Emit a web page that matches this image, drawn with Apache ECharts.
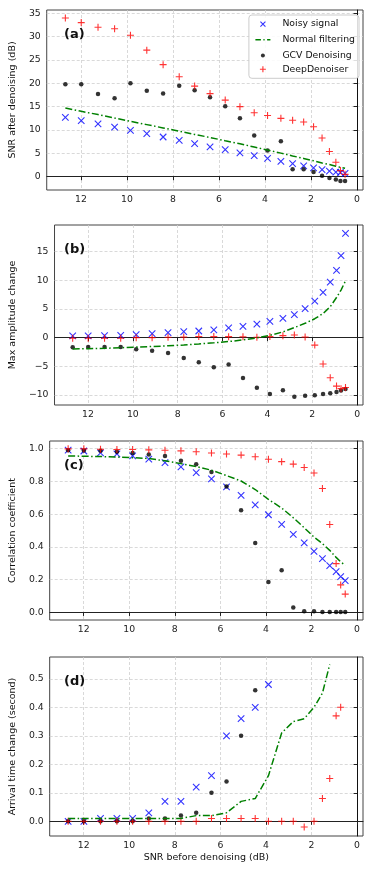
<!DOCTYPE html>
<html>
<head>
<meta charset="utf-8">
<script src="https://cdn.jsdelivr.net/npm/echarts@6/dist/echarts.min.js"></script>
<style>
  html, body { margin: 0; padding: 0; background: #fff; }
  #chart { width: 374px; height: 871px; }
</style>
</head>
<body>
<div id="chart"></div>
<script>
// SNR before denoising (dB), shared by all four panels
const snr = [12.68, 11.99, 11.26, 10.54, 9.85, 9.14, 8.43, 7.73, 7.06, 6.39, 5.73, 5.09,
             4.47, 3.89, 3.31, 2.80, 2.32, 1.89, 1.52, 1.20, 0.92, 0.72, 0.52];
const xTicks = [0, 2, 4, 6, 8, 10, 12];

// (a) SNR after denoising
const noisyA  = [12.7, 12.0, 11.3, 10.6, 9.9, 9.2, 8.5, 7.8, 7.1, 6.4, 5.8, 5.1, 4.5, 3.9, 3.3, 2.8, 2.3, 1.9, 1.5, 1.2, 1.0, 0.9, 0.7];
const normalA = [14.7, 14.0, 13.3, 12.55, 11.85, 11.15, 10.45, 9.75, 9.05, 8.4, 7.7, 7.05, 6.35, 5.7, 5.05, 4.45, 3.9, 3.4, 2.95, 2.6, 2.25, 2.0, 1.8];
const gcvA    = [19.8, 19.8, 17.7, 16.8, 20.0, 18.4, 17.8, 19.5, 18.5, 17.0, 15.1, 12.5, 8.8, 5.6, 7.6, 1.6, 1.6, 1.0, 0.2, -0.3, -0.6, -0.9, -0.9];
const deepA   = [34.0, 33.0, 32.0, 31.7, 30.3, 27.1, 24.0, 21.4, 19.4, 17.8, 16.4, 15.0, 13.7, 13.1, 12.5, 12.1, 11.7, 10.7, 8.3, 5.4, 3.1, 1.3, 0.5];
const ticksA  = [0, 5, 10, 15, 20, 25, 30, 35];

// (b) max amplitude change
const noisyB  = [0.3, 0.3, 0.35, 0.4, 0.52, 0.7, 0.87, 1.05, 1.16, 1.34, 1.69, 1.98, 2.35, 2.83, 3.37, 4.0, 5.06, 6.37, 7.9, 9.7, 11.75, 14.3, 18.2];
const normalB = [-1.98, -1.92, -1.86, -1.76, -1.65, -1.55, -1.42, -1.28, -1.1, -0.9, -0.68, -0.4, -0.05, 0.4, 1.0, 1.75, 2.5, 3.3, 4.2, 5.4, 7.0, 8.3, 9.9];
const gcvB    = [-1.69, -1.63, -1.63, -1.63, -2.03, -2.27, -2.67, -3.55, -4.3, -5.17, -4.7, -7.03, -8.75, -9.85, -9.19, -10.29, -10.15, -10.03, -9.82, -9.68, -9.5, -9.2, -8.95];
const deepB   = [-0.1, -0.1, -0.1, -0.1, 0.0, 0.0, 0.06, 0.1, 0.2, 0.2, 0.17, 0.15, 0.08, 0.18, 0.35, 0.45, 0.12, -1.3, -4.6, -7.0, -8.45, -8.9, -8.7];
const ticksB  = [-10, -5, 0, 5, 10, 15];

// (c) correlation coefficient
const noisyC  = [0.99, 0.985, 0.973, 0.967, 0.955, 0.935, 0.914, 0.888, 0.853, 0.815, 0.766, 0.714, 0.656, 0.596, 0.537, 0.477, 0.424, 0.373, 0.328, 0.286, 0.249, 0.218, 0.194];
const normalC = [0.955, 0.953, 0.951, 0.948, 0.944, 0.939, 0.925, 0.908, 0.89, 0.868, 0.835, 0.802, 0.75, 0.69, 0.637, 0.578, 0.517, 0.46, 0.42, 0.379, 0.336, 0.309, 0.287];
const gcvC    = [0.99, 0.988, 0.986, 0.98, 0.973, 0.963, 0.955, 0.925, 0.904, 0.857, 0.768, 0.624, 0.424, 0.186, 0.258, 0.03, 0.008, 0.008, 0.003, 0.003, 0.003, 0.003, 0.003];
const deepC   = [0.998, 0.998, 0.996, 0.994, 0.994, 0.992, 0.99, 0.986, 0.98, 0.973, 0.967, 0.96, 0.95, 0.935, 0.92, 0.905, 0.884, 0.851, 0.756, 0.537, 0.298, 0.168, 0.112];
const ticksC  = [0, 0.2, 0.4, 0.6, 0.8, 1.0];

// (d) arrival time change (missing points at low SNR)
const noisyD  = [0.0, 0.0, 0.01, 0.01, 0.01, 0.03, 0.07, 0.07, 0.12, 0.16, 0.30, 0.36, 0.40, 0.48];
const normalD = [0.01, 0.01, 0.01, 0.01, 0.01, 0.01, 0.01, 0.01, 0.02, 0.02, 0.03, 0.07, 0.08, 0.16, 0.31, 0.35, 0.36, 0.40, 0.45, 0.55];
const gcvD    = [0.0, 0.0, 0.0, 0.0, 0.0, 0.01, 0.01, 0.02, 0.03, 0.10, 0.14, 0.30, 0.46];
const deepD   = [0.0, 0.0, 0.0, 0.0, 0.0, 0.0, 0.0, 0.0, 0.0, 0.01, 0.01, 0.01, 0.01, 0.0, 0.0, 0.0, -0.02, 0.0, 0.08, 0.15, 0.37, 0.40];
const ticksD  = [0, 0.1, 0.2, 0.3, 0.4, 0.5];

const FONT = 'DejaVu Sans';
const pairs = ys => ys.map((y, i) => [snr[i], y]);

const X_PATH = 'path://M0,0L10,10M10,0L0,10';
const PLUS_PATH = 'path://M5,0L5,10M0,5L10,5';

const panels = [
  {tag: '(a)', name: 'SNR after denoising (dB)', top: 10, h: 180, min: -2.85, max: 35.7, ticks: ticksA, gap: 20,
   fmt: v => String(v), d: [noisyA, normalA, gcvA, deepA]},
  {tag: '(b)', name: 'Max amplitude change', top: 225, h: 180, min: -11.75, max: 19.65, ticks: ticksB, gap: 24,
   fmt: v => String(v).replace('-', '\u2212'), d: [noisyB, normalB, gcvB, deepB]},
  {tag: '(c)', name: 'Correlation coefficient', top: 441, h: 179, min: -0.046, max: 1.046, ticks: ticksC, gap: 24,
   fmt: v => v.toFixed(1), d: [noisyC, normalC, gcvC, deepC]},
  {tag: '(d)', name: 'Arrival time change (second)', top: 657, h: 179, min: -0.0515, max: 0.5765, ticks: ticksD, gap: 22,
   fmt: v => v.toFixed(1), d: [noisyD, normalD, gcvD, deepD]}
];

const grid = [], xAxis = [], yAxis = [], series = [], title = [];
const gridLine = {show: true, lineStyle: {color: '#cfcfcf', width: 0.8, type: [3, 2]}};

panels.forEach((p, k) => {
  grid.push({left: 46, right: 11, top: p.top, height: p.h, show: true,
             borderColor: '#444', borderWidth: 1, backgroundColor: 'transparent'});
  xAxis.push({
    type: 'value', gridIndex: k, inverse: true, min: -0.26, max: 13.49,
    name: k === 3 ? 'SNR before denoising (dB)' : '', nameLocation: 'middle', nameGap: 17,
    nameTextStyle: {fontFamily: FONT, fontSize: 9.5, color: '#111'},
    axisLine: {show: true, lineStyle: {color: '#222', width: 1}},
    axisTick: {show: true, length: 3.5, lineStyle: {color: '#222'}, customValues: xTicks},
    axisLabel: {fontFamily: FONT, fontSize: 9.3, color: '#222', margin: 5, customValues: xTicks,
                formatter: v => String(v)},
    splitLine: gridLine
  });
  yAxis.push({
    type: 'value', gridIndex: k, min: p.min, max: p.max,
    name: p.name, nameLocation: 'middle', nameGap: p.gap, nameRotate: 90,
    nameTextStyle: {fontFamily: FONT, fontSize: 9.5, color: '#111'},
    axisLine: {show: true, lineStyle: {color: '#111', width: 1}},
    axisTick: {show: true, length: 3.5, lineStyle: {color: '#222'}, customValues: p.ticks},
    axisLabel: {fontFamily: FONT, fontSize: 9.3, color: '#222', margin: 6, customValues: p.ticks,
                formatter: p.fmt},
    splitLine: gridLine
  });
  title.push({text: p.tag, left: 59, top: p.top + 13,
              textStyle: {fontFamily: FONT, fontSize: 13, fontWeight: 'bold', color: '#111'}});

  const [noisy, normal, gcv, deep] = p.d;
  series.push(
    {name: 'Noisy signal', type: 'scatter', xAxisIndex: k, yAxisIndex: k, data: pairs(noisy),
     symbol: X_PATH, symbolSize: 6.5,
     itemStyle: {color: '#0000ff', borderColor: '#0000ff', borderWidth: 1.1}},
    {name: 'Normal filtering', type: 'line', xAxisIndex: k, yAxisIndex: k, data: pairs(normal),
     symbol: 'none', showSymbol: false,
     lineStyle: {color: '#008000', width: 1.5, type: [7, 2.5, 1.5, 2.5]}, itemStyle: {color: '#008000'}},
    {name: 'GCV Denoising', type: 'scatter', xAxisIndex: k, yAxisIndex: k, data: pairs(gcv),
     symbol: 'circle', symbolSize: 4.5, itemStyle: {color: '#000'}},
    {name: 'DeepDenoiser', type: 'scatter', xAxisIndex: k, yAxisIndex: k, data: pairs(deep),
     symbol: PLUS_PATH, symbolSize: 7,
     itemStyle: {color: '#ff0000', borderColor: '#ff0000', borderWidth: 1.1}}
  );
});

const chart = echarts.init(document.getElementById('chart'), null, {renderer: 'canvas'});
chart.setOption({
  animation: false,
  backgroundColor: '#fff',
  title: title,
  grid: grid,
  xAxis: xAxis,
  yAxis: yAxis,
  legend: {
    orient: 'vertical', right: 15, top: 15,
    backgroundColor: 'rgba(255,255,255,0.85)', borderColor: '#cccccc', borderWidth: 1, borderRadius: 3,
    padding: [4, 4, 4, 4], itemWidth: 15, itemHeight: 9, itemGap: 3.7,
    textStyle: {fontFamily: FONT, fontSize: 9.3, color: '#111', lineHeight: 10, padding: [0, 0, 0, 7]},
    data: [
      {name: 'Noisy signal', icon: 'path://M0,0M15,9M5,2L10,7M10,2L5,7',
       itemStyle: {color: '#0000ff', borderColor: '#0000ff', borderWidth: 1.1}},
      {name: 'Normal filtering', icon: 'path://M0,0M15,9M0,4.5L5.5,4.5M8,4.5L9.2,4.5M11.7,4.5L15,4.5',
       itemStyle: {color: 'none', borderColor: '#008000', borderWidth: 1.5},
       lineStyle: {opacity: 0}},
      {name: 'GCV Denoising', icon: 'path://M0,0M15,9M5.5,4.5A2,2,0,1,0,9.5,4.5A2,2,0,1,0,5.5,4.5Z',
       itemStyle: {color: '#000', borderWidth: 0}},
      {name: 'DeepDenoiser', icon: 'path://M0,0M15,9M7.5,1.5L7.5,7.5M4.5,4.5L10.5,4.5',
       itemStyle: {color: '#ff0000', borderColor: '#ff0000', borderWidth: 1.1}}
    ]
  },
  series: series
});
</script>
</body>
</html>
